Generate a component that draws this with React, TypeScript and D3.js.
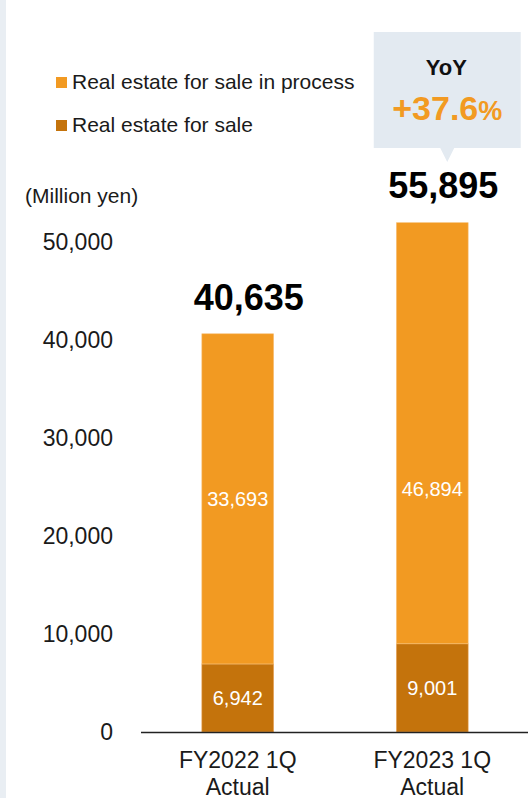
import React from "react";
import * as d3 from "d3";

const categories = ["FY2022 1Q|Actual", "FY2023 1Q|Actual"];
const forSale = [6942, 9001];
const inProcess = [33693, 46894];
const totals = [40635, 55895];
const yTicks = [0, 10000, 20000, 30000, 40000, 50000];
const yMax = 52000;
const seriesNames = ["Real estate for sale in process", "Real estate for sale"];
const yoyText = "+37.6";
const unitLabel = "(Million yen)";

const W = 528;
const H = 798;
const FONT = "'Liberation Sans', Arial, sans-serif";
const C_LIGHT = "#F29A22";
const C_DARK = "#C4730C";

export default function App() {
  const y = d3.scaleLinear().domain([0, yMax]).range([732, 222.4]);
  const x = d3
    .scaleBand<string>()
    .domain(categories)
    .range([142, 528])
    .paddingInner(0.6308)
    .paddingOuter(0.3077);
  const bw = x.bandwidth();
  const fmt = d3.format(",");
  const plotTop = y(yMax);
  const minTotal = d3.min(totals) as number;

  const cx2 = (x(categories[1]) as number) + bw / 2;
  const boxCx = cx2 + 15;
  const boxW = 147;
  const boxTop = 32;
  const boxBottom = 148;

  return (
    <div style={{ position: "fixed", left: 0, top: 0 }}>
      <svg width={W} height={H} style={{ display: "block", fontFamily: FONT }}>
        <rect x={0} y={0} width={W} height={H} fill="#fff" />
        <rect x={0} y={0} width={6} height={H} fill="#E9EEF3" />
        <defs>
          <clipPath id="plotClip">
            <rect x={0} y={plotTop} width={W} height={732 - plotTop} />
          </clipPath>
        </defs>

        {/* legend */}
        {seriesNames.map((n, i) => (
          <g key={n} transform={`translate(56, ${77 + i * 43})`}>
            <rect width={11} height={11} fill={i === 0 ? C_LIGHT : C_DARK} />
            <text x={16} y={12} fontSize={21} fill="#1a1a1a">
              {n}
            </text>
          </g>
        ))}

        {/* unit */}
        <text x={25} y={203} fontSize={21} fill="#1a1a1a">
          {unitLabel}
        </text>

        {/* y ticks */}
        {yTicks.map((t) => (
          <text
            key={t}
            x={113}
            y={y(t)}
            dy="0.36em"
            textAnchor="end"
            fontSize={23}
            fill="#1a1a1a"
          >
            {fmt(t)}
          </text>
        ))}

        {/* bars */}
        <g clipPath="url(#plotClip)">
          {categories.map((c, i) => {
            const x0 = x(c) as number;
            return (
              <g key={c}>
                <rect
                  x={x0}
                  y={y(forSale[i])}
                  width={bw}
                  height={y(0) - y(forSale[i])}
                  fill={C_DARK}
                  stroke="#E9A861"
                  strokeWidth={0.6}
                />
                <rect
                  x={x0}
                  y={y(forSale[i] + inProcess[i])}
                  width={bw}
                  height={y(forSale[i]) - y(forSale[i] + inProcess[i])}
                  fill={C_LIGHT}
                  stroke="#F7C27E"
                  strokeWidth={0.6}
                />
              </g>
            );
          })}
        </g>

        {/* inner labels */}
        {categories.map((c, i) => {
          const cx = (x(c) as number) + bw / 2;
          const topV = Math.min(forSale[i] + inProcess[i], minTotal);
          return (
            <g key={c} fill="#fff" fontSize={20} textAnchor="middle">
              <text x={cx} y={y(forSale[i] / 2)} dy="0.36em">
                {fmt(forSale[i])}
              </text>
              <text x={cx} y={y((forSale[i] + topV) / 2)} dy="0.36em">
                {fmt(inProcess[i])}
              </text>
            </g>
          );
        })}

        {/* totals */}
        {categories.map((c, i) => {
          const cx = (x(c) as number) + bw / 2;
          const top = Math.max(y(totals[i]), plotTop);
          return (
            <text
              key={c}
              x={cx + 11}
              y={top - 24}
              textAnchor="middle"
              fontSize={36}
              fontWeight="bold"
              fill="#000"
            >
              {fmt(totals[i])}
            </text>
          );
        })}

        {/* axis line */}
        <line x1={141} x2={W} y1={732.5} y2={732.5} stroke="#222" strokeWidth={1.5} />

        {/* x labels */}
        {categories.map((c) => {
          const cx = (x(c) as number) + bw / 2;
          const lines = c.split("|");
          return (
            <text key={c} textAnchor="middle" fontSize={23} fill="#1a1a1a">
              {lines.map((l, j) => (
                <tspan key={j} x={cx} y={768 + j * 27}>
                  {l}
                </tspan>
              ))}
            </text>
          );
        })}

        {/* YoY callout */}
        <path
          d={`M${boxCx - boxW / 2},${boxTop} H${boxCx + boxW / 2} V${boxBottom} H${boxCx + 7} L${boxCx},${boxBottom + 14} L${boxCx - 7},${boxBottom} H${boxCx - boxW / 2} Z`}
          fill="#E3EAF1"
        />
        <text x={boxCx - 1} y={75} textAnchor="middle" fontSize={22} fontWeight="bold" fill="#111">
          YoY
        </text>
        <text x={boxCx} y={120} textAnchor="middle" fontWeight="bold" fill={C_LIGHT}>
          <tspan fontSize={34}>{yoyText}</tspan>
          <tspan fontSize={27}>%</tspan>
        </text>
      </svg>
    </div>
  );
}
